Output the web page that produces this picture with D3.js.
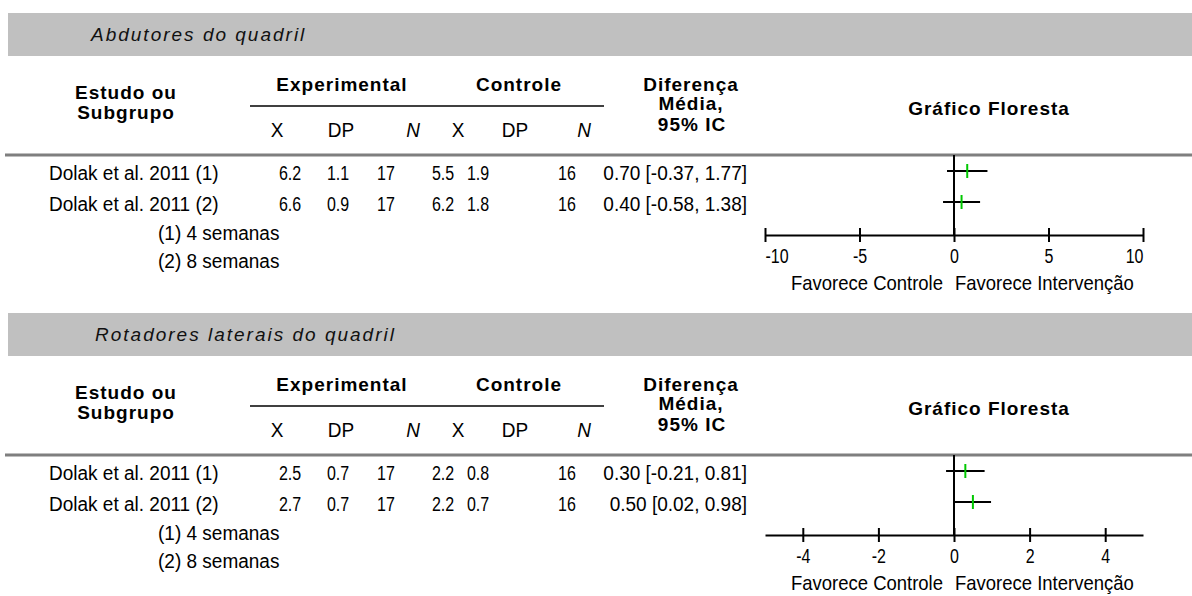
<!DOCTYPE html>
<html>
<head>
<meta charset="utf-8">
<script src="https://cdn.jsdelivr.net/npm/d3@7"></script>
<style>
	body { margin: 0; background: #fff; }
	svg text { font-family: "Liberation Sans", Arial, sans-serif; fill: #000; }
</style>
</head>
<body>
<svg id="chart"></svg>
<script>
// values, one entry per panel
const panelTitles = ["Abdutores do quadril", "Rotadores laterais do quadril"];
const studies = ["Dolak et al. 2011 (1)", "Dolak et al. 2011 (2)"];
const footnotes = ["(1) 4 semanas", "(2) 8 semanas"];
const expMean = [[6.2, 6.6], [2.5, 2.7]];
const expSD = [[1.1, 0.9], [0.7, 0.7]];
const expN = [[17, 17], [17, 17]];
const ctlMean = [[5.5, 6.2], [2.2, 2.2]];
const ctlSD = [[1.9, 1.8], [0.8, 0.7]];
const ctlN = [[16, 16], [16, 16]];
const meanDiff = [[0.70, 0.40], [0.30, 0.50]];
const ciLow = [[-0.37, -0.58], [-0.21, 0.02]];
const ciHigh = [[1.77, 1.38], [0.81, 0.98]];
const axisDomains = [[-10, 10], [-5, 5]];
const axisTicks = [[-10, -5, 0, 5, 10], [-4, -2, 0, 2, 4]];
const colHeaders = ["X", "DP", "N", "X", "DP", "N"];

const width = 1192, height = 596;
const panelH = 300;

const svg = d3.select("#chart")
	.attr("width", width)
	.attr("height", height);

const f1 = d3.format(".1f");
const f2 = d3.format(".2f");
const fmt2 = v => f2(v).replace("−", "-");

// the original font is tall and narrow: squeeze arial horizontally
function narrow(sel, k) {
	sel.each(function () {
		const w = this.getComputedTextLength();
		d3.select(this).attr("textLength", w * k).attr("lengthAdjust", "spacingAndGlyphs");
	});
}
const body = (sel, k = 0.95) => sel.style("font-size", "20px").call(narrow, k);
const bold = sel => sel.style("font-size", "19px").style("font-weight", "bold").style("letter-spacing", "1px");

// column centres of the table
const colX = [277, 341, 413, 458, 515, 584];
const dataX = [290, 338, 386, 443, 478, 567];
const rowY = [171, 202];
const titleX = [91, 95];

const x = d3.scaleLinear().range([765, 1143]);

panelTitles.forEach((title, p) => {
	const g = svg.append("g").attr("transform", `translate(0,${p * panelH})`);

	// grey title band
	g.append("rect")
		.attr("x", 8).attr("y", 13)
		.attr("width", width - 8).attr("height", 43)
		.style("fill", "#c0c0c0");

	g.append("text")
		.attr("x", titleX[p]).attr("y", 41)
		.style("font-size", "19px")
		.style("font-style", "italic")
		.style("letter-spacing", "2px")
		.style("fill", "#111")
		.text(title);

	// header
	g.append("text").attr("x", 126).attr("y", 99).attr("text-anchor", "middle").call(bold).text("Estudo ou");
	g.append("text").attr("x", 126).attr("y", 119).attr("text-anchor", "middle").call(bold).text("Subgrupo");
	g.append("text").attr("x", 342).attr("y", 91).attr("text-anchor", "middle").call(bold).text("Experimental");
	g.append("text").attr("x", 519).attr("y", 91).attr("text-anchor", "middle").call(bold).text("Controle");
	g.append("text").attr("x", 691).attr("y", 91).attr("text-anchor", "middle").call(bold).text("Diferença");
	g.append("text").attr("x", 691).attr("y", 110).attr("text-anchor", "middle").call(bold).text("Média,");
	g.append("text").attr("x", 692).attr("y", 131).attr("text-anchor", "middle").call(bold).text("95% IC");
	g.append("text").attr("x", 989).attr("y", 115).attr("text-anchor", "middle").call(bold).text("Gráfico Floresta");

	g.append("line")
		.attr("x1", 250).attr("x2", 604)
		.attr("y1", 106).attr("y2", 106)
		.style("stroke", "#404040").style("stroke-width", 2);

	g.selectAll(".colhead")
		.data(colHeaders)
		.enter()
		.append("text")
		.attr("x", (d, i) => colX[i])
		.attr("y", 137)
		.attr("text-anchor", "middle")
		.style("font-style", d => d === "N" ? "italic" : "normal")
		.text(d => d)
		.call(body);

	g.append("line")
		.attr("x1", 5).attr("x2", width)
		.attr("y1", 155).attr("y2", 155)
		.style("stroke", "#7f7f7f").style("stroke-width", 3);

	// study rows
	studies.forEach((s, i) => {
		const y = rowY[i] + 9;
		const cells = [f1(expMean[p][i]), f1(expSD[p][i]), expN[p][i],
			f1(ctlMean[p][i]), f1(ctlSD[p][i]), ctlN[p][i]];
		g.append("text").attr("x", 49).attr("y", y).text(s).call(body);
		g.selectAll(".cell" + i)
			.data(cells)
			.enter()
			.append("text")
			.attr("x", (d, j) => dataX[j])
			.attr("y", y)
			.attr("text-anchor", "middle")
			.text(d => d)
			.call(body, 0.8);
		g.append("text")
			.attr("x", 747).attr("y", y)
			.attr("text-anchor", "end")
			.text(`${fmt2(meanDiff[p][i])} [${fmt2(ciLow[p][i])}, ${fmt2(ciHigh[p][i])}]`)
			.call(body);
	});

	footnotes.forEach((f, i) => {
		g.append("text")
			.attr("x", 158).attr("y", 240 + i * 28)
			.text(f)
			.call(body);
	});

	// forest plot
	x.domain(axisDomains[p]);
	const axisY = 235;

	g.append("line")
		.attr("x1", x(0)).attr("x2", x(0))
		.attr("y1", 155).attr("y2", axisY)
		.style("stroke", "#000").style("stroke-width", 2);

	const rows = studies.map((s, i) => ({ md: meanDiff[p][i], lo: ciLow[p][i], hi: ciHigh[p][i], y: rowY[i] }));

	g.selectAll(".ci")
		.data(rows)
		.enter()
		.append("line")
		.attr("x1", d => x(d.lo)).attr("x2", d => x(d.hi))
		.attr("y1", d => d.y).attr("y2", d => d.y)
		.style("stroke", "#000").style("stroke-width", 2);

	g.selectAll(".pt")
		.data(rows)
		.enter()
		.append("line")
		.attr("x1", d => x(d.md)).attr("x2", d => x(d.md))
		.attr("y1", d => d.y - 7).attr("y2", d => d.y + 7)
		.style("stroke", "#00c800").style("stroke-width", 2);

	const ax = g.append("g")
		.attr("transform", `translate(0,${axisY})`)
		.call(d3.axisBottom(x)
			.tickValues(axisTicks[p])
			.tickSizeOuter(0)
			.tickSizeInner(7)
			.tickPadding(7)
			.tickFormat(d => String(d)));
	ax.select(".domain").style("stroke", "#000").style("stroke-width", 2);
	ax.selectAll(".tick line").attr("y1", -7).attr("y2", 7).style("stroke", "#000").style("stroke-width", 2);
	ax.selectAll(".tick text")
		.style("font-size", "20px")
		.style("font-family", "\"Liberation Sans\", Arial, sans-serif")
		.attr("fill", "#000")
		.attr("dy", "0.71em")
		.call(narrow, 0.8);
	if (p === 0) {
		ax.selectAll(".tick text")
			.attr("text-anchor", (d, i, n) => i === 0 ? "start" : (i === n.length - 1 ? "end" : "middle"));
	}

	g.append("text")
		.attr("x", 943).attr("y", 290)
		.attr("text-anchor", "end")
		.style("font-size", "21px")
		.text("Favorece Controle")
		.call(narrow, 0.88);
	g.append("text")
		.attr("x", 955).attr("y", 290)
		.style("font-size", "21px")
		.text("Favorece Intervenção")
		.call(narrow, 0.88);
});
</script>
</body>
</html>
